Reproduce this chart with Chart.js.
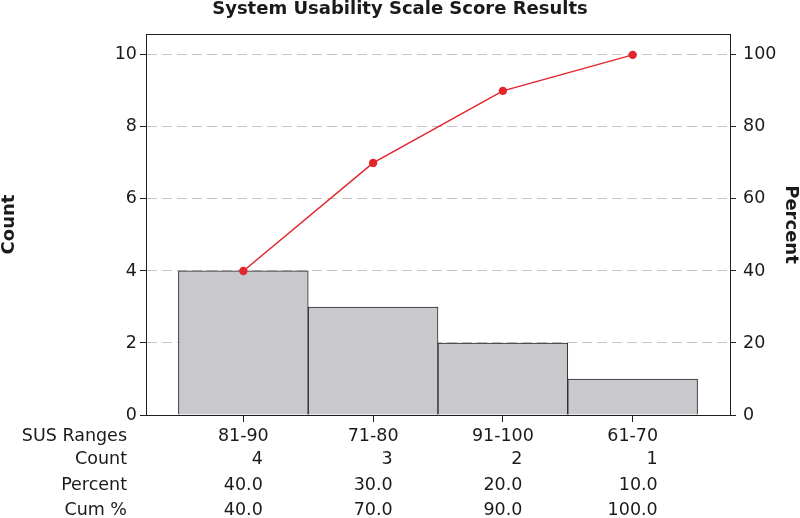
<!DOCTYPE html>
<html>
<head>
<meta charset="utf-8">
<script src="https://cdn.jsdelivr.net/npm/chart.js@4"></script>
<style>
  html, body { margin: 0; padding: 0; background: #fff; }
  #wrap { width: 800px; height: 518px; }
</style>
</head>
<body>
<div id="wrap"><canvas id="pareto" width="800" height="518"></canvas></div>
<script>
'use strict';

// ── Data ─────────────────────────────────────────────────────────
const categories   = ['81-90', '71-80', '91-100', '61-70'];
const counts       = [4, 3, 2, 1];
const percents     = [40.0, 30.0, 20.0, 10.0];
const cumPercents  = [40.0, 70.0, 90.0, 100.0];
const rowHeaders   = ['SUS Ranges', 'Count', 'Percent', 'Cum %'];

// ── Look ─────────────────────────────────────────────────────────
const FONT = "'DejaVu Sans', Verdana, sans-serif";
const C = {
  text: '#1a1a1a', axis: '#1e1e1e', grid: '#c4c4c4',
  bar: '#c9c9cd', barEdge: '#262626', line: '#e3262b'
};

// Table under the x axis (row headers + values per category)
const tablePlugin = {
  id: 'paretoTable',
  afterDraw(chart) {
    const { ctx } = chart;
    const xs = chart.scales.x;
    const rowY = [21, 44, 70.5, 95].map(d => xs.top + d);
    const rows = [
      categories,
      counts.map(String),
      percents.map(v => v.toFixed(1)),
      cumPercents.map(v => v.toFixed(1))
    ];
    ctx.save();
    ctx.font = '17.5px ' + FONT;
    ctx.fillStyle = C.text;
    ctx.textBaseline = 'middle';

    ctx.textAlign = 'right';
    rowHeaders.forEach((h, r) => ctx.fillText(h, 127, rowY[r]));

    categories.forEach((cat, i) => {
      const px = xs.getPixelForValue(i);
      ctx.textAlign = 'center';
      ctx.fillText(cat, px, rowY[0]);
      const vals = rows.slice(1).map(r => r[i]);
      const w = Math.max(...vals.map(v => ctx.measureText(v).width));
      ctx.textAlign = 'right';
      vals.forEach((v, r) => ctx.fillText(v, px + w / 2, rowY[r + 1]));
    });
    ctx.restore();
  }
};

// Closes the plot frame on top
const framePlugin = {
  id: 'frameTop',
  afterDatasetsDraw(chart) {
    const { ctx, chartArea: a } = chart;
    ctx.save();
    ctx.strokeStyle = C.axis;
    ctx.lineWidth = 1;
    ctx.beginPath();
    ctx.moveTo(a.left, Math.round(a.top) + 0.5);
    ctx.lineTo(a.right, Math.round(a.top) + 0.5);
    ctx.stroke();
    ctx.restore();
  }
};

new Chart(document.getElementById('pareto'), {
  type: 'bar',
  data: {
    datasets: [
      {
        type: 'line',
        label: 'Cum %',
        data: cumPercents.map((v, i) => ({ x: i, y: v })),
        yAxisID: 'y2',
        borderColor: C.line,
        backgroundColor: C.line,
        borderWidth: 1.5,
        pointRadius: 4.2,
        pointBorderWidth: 0,
        tension: 0,
        order: 0
      },
      {
        type: 'bar',
        label: 'Count',
        data: counts.map((v, i) => ({ x: i, y: v })),
        yAxisID: 'y',
        backgroundColor: C.bar,
        borderColor: C.barEdge,
        borderWidth: 1,
        barPercentage: 1,
        categoryPercentage: 1,
        order: 1
      }
    ]
  },
  options: {
    responsive: false,
    devicePixelRatio: 1,
    animation: false,
    layout: { padding: 0 },
    plugins: {
      legend: { display: false },
      tooltip: { enabled: false },
      title: {
        display: true,
        text: 'System Usability Scale Score Results',
        color: C.text,
        font: { family: FONT, size: 18, weight: 'bold', lineHeight: 1 },
        padding: { top: 0, bottom: 16 }
      }
    },
    scales: {
      x: {
        type: 'linear',
        min: -0.75,
        max: 3.75,
        offset: false,
        afterBuildTicks: s => { s.ticks = categories.map((_, i) => ({ value: i })); },
        afterFit: s => { s.height = 103; },
        ticks: { display: false },
        grid: { offset: false, drawOnChartArea: false, tickLength: 7, tickColor: C.axis },
        border: { color: C.axis, width: 1 }
      },
      y: {
        position: 'left',
        min: 0,
        max: 10.58,
        afterFit: s => { s.width = 146; },
        ticks: { stepSize: 2, includeBounds: false, padding: 3, color: C.text,
                 font: { family: FONT, size: 17.5 } },
        grid: { color: C.grid, lineWidth: 1, tickLength: 6, tickColor: C.axis,
                tickBorderDash: [] },
        border: { color: C.axis, width: 1, dash: [10, 5] },
        title: { display: true, text: 'Count', color: C.text, padding: 0,
                 font: { family: FONT, size: 18, weight: 'bold', lineHeight: 1 } }
      },
      y2: {
        position: 'right',
        min: 0,
        max: 105.8,
        afterFit: s => { s.width = 70; },
        ticks: { stepSize: 20, includeBounds: false, padding: 7, color: C.text,
                 font: { family: FONT, size: 17.5 } },
        grid: { drawOnChartArea: false, tickLength: 6, tickColor: C.axis },
        border: { color: C.axis, width: 1 },
        title: { display: true, text: 'Percent', color: C.text, padding: 0,
                 font: { family: FONT, size: 18, weight: 'bold', lineHeight: 1 } }
      }
    }
  },
  plugins: [tablePlugin, framePlugin]
});
</script>
</body>
</html>
